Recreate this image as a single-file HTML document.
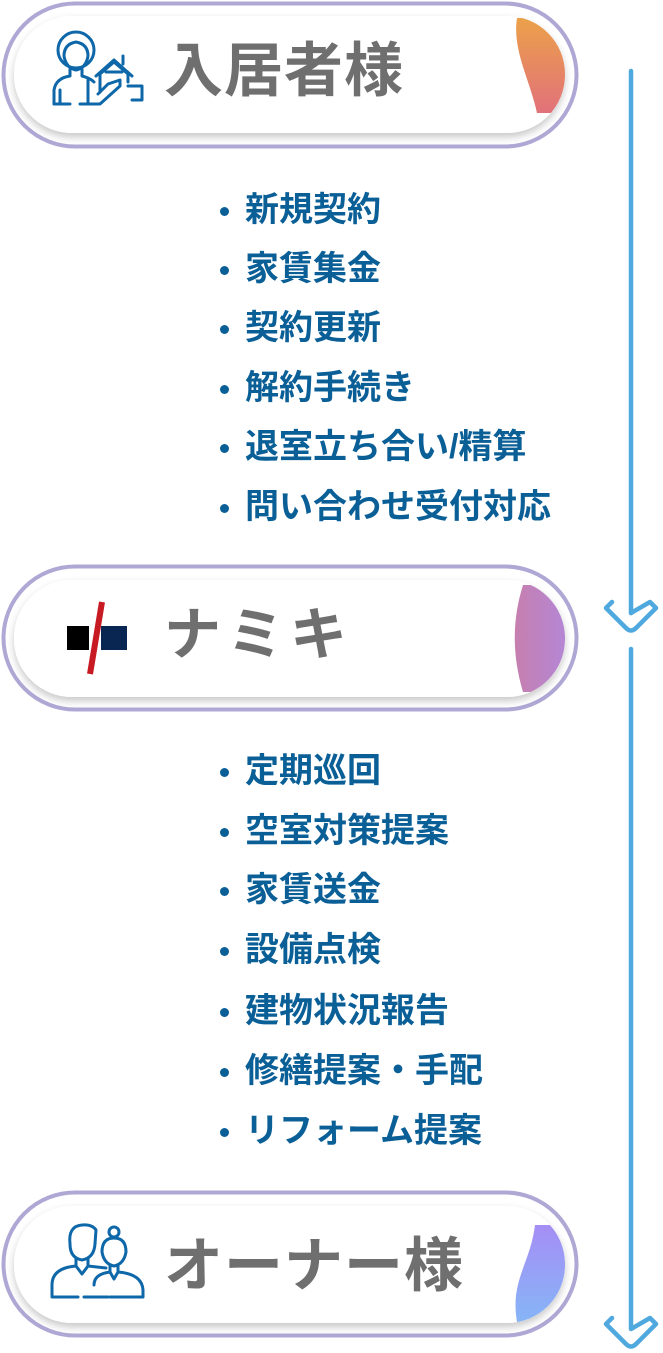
<!DOCTYPE html>
<html><head><meta charset="utf-8">
<style>
html,body{margin:0;padding:0;background:#fff;}
body{width:663px;height:1353px;position:relative;overflow:hidden;font-family:"Liberation Sans","Noto Sans CJK JP",sans-serif;}
.t{position:absolute;font-weight:bold;color:#6f6f6f;font-size:59px;line-height:1;white-space:nowrap;}
.li{position:absolute;left:245px;font-weight:bold;color:#0b5f97;font-size:34px;line-height:1;white-space:nowrap;}
.li::before{content:"";position:absolute;left:-25px;top:14px;width:9px;height:9px;border-radius:50%;background:#0b5f97;}
</style></head><body>
<svg width="663" height="1353" style="position:absolute;left:0;top:0">
<defs>
<filter id="sh" x="-10%" y="-20%" width="120%" height="150%"><feDropShadow dx="0" dy="4" stdDeviation="4" flood-color="#000" flood-opacity="0.22"/></filter>
<linearGradient id="g1" x1="0" y1="0" x2="0" y2="1"><stop offset="0" stop-color="#eba14a"/><stop offset="1" stop-color="#e2717a"/></linearGradient>
<linearGradient id="g2" x1="0" y1="0" x2="1" y2="0"><stop offset="0" stop-color="#c67fae"/><stop offset="1" stop-color="#a98bf0"/></linearGradient>
<linearGradient id="g3" x1="0" y1="0" x2="0" y2="1"><stop offset="0" stop-color="#a58ef5"/><stop offset="1" stop-color="#86b5f7"/></linearGradient>
<clipPath id="c1"><rect x="14" y="16" width="551" height="117" rx="58"/></clipPath>
<clipPath id="c2"><rect x="14" y="580" width="551" height="117" rx="58"/></clipPath>
<clipPath id="c3"><rect x="14" y="1206" width="551" height="117" rx="58"/></clipPath>
</defs>
<rect x="3.5" y="3.5" width="573" height="143" rx="71.5" fill="#fff" stroke="#afa8d5" stroke-width="4"/>
<rect x="14" y="16" width="551" height="117" rx="58" fill="#fff" filter="url(#sh)"/>
<path d="M517 18 C512 50 530 80 537 113 L600 113 L600 18 Z" fill="url(#g1)" clip-path="url(#c1)"/>
<rect x="3.5" y="566.5" width="573" height="143" rx="71.5" fill="#fff" stroke="#afa8d5" stroke-width="4"/>
<rect x="14" y="580" width="551" height="117" rx="58" fill="#fff" filter="url(#sh)"/>
<path d="M523 585 C512 620 512 655 523 692 L600 692 L600 585 Z" fill="url(#g2)" clip-path="url(#c2)"/>
<rect x="3.5" y="1192.5" width="573" height="143" rx="71.5" fill="#fff" stroke="#afa8d5" stroke-width="4"/>
<rect x="14" y="1206" width="551" height="117" rx="58" fill="#fff" filter="url(#sh)"/>
<path d="M535 1225 C530 1265 510 1280 517 1322 L600 1322 L600 1225 Z" fill="url(#g3)" clip-path="url(#c3)"/>
<g stroke="#4fa9df" stroke-width="4.5" fill="none" stroke-linecap="round" stroke-linejoin="round">
<line x1="631" y1="71" x2="631" y2="613"/>
<path d="M612 602 L606 608 L626 628 Q631 633 636 628 L656 608 L650 602 L631 613"/>
<line x1="631" y1="649" x2="631" y2="1328"/>
<path d="M612 1318 L606 1324 L626 1344 Q631 1349 636 1344 L656 1324 L650 1318 L631 1329"/>
</g>
<g stroke="#0d67a8" stroke-width="3" fill="none" stroke-linecap="round" stroke-linejoin="round">
<circle cx="76" cy="50" r="18"/>
<path d="M64 56 Q64 44 76 42 Q88 44 88 56 Q86 68 76 70 Q66 68 64 56Z"/>
<path d="M70 69 L70 76 Q56 78 54 90 L54 104 M82 69 L82 76 Q90 78 94 82"/>
<path d="M60 90 L60 104 M54 104 L70 104 M80 104 L100 104 L120 86 L120 80 L108 84 L98 94"/>
<path d="M88 80 L88 104"/>
<path d="M100 92 L100 74 L114 62 L128 74 L128 82 M106 72 L122 72 M96 76 L114 60 L132 76"/>
<path d="M123 64 L123 56 M128 86 L142 86 L142 100 L132 100"/>
</g>
<rect x="67" y="626" width="22" height="24" fill="#000"/>
<rect x="101" y="626" width="26" height="24" fill="#092653"/>
<line x1="102" y1="602" x2="90" y2="674" stroke="#c81a22" stroke-width="6"/>
<g stroke="#0d67a8" stroke-width="3" fill="none" stroke-linecap="round" stroke-linejoin="round">
<path d="M70 1244 Q68 1226 82 1225 Q92 1224 96 1230 L95 1244 Q94 1258 82 1260 Q70 1258 70 1244Z"/>
<path d="M76 1259 L76 1266 Q52 1268 52 1285 L52 1297 L78 1297 M84 1297 L108 1297 M76 1266 L82 1274 L88 1266 M88 1259 L88 1266 L106 1268"/>
<circle cx="114" cy="1232" r="5"/>
<path d="M102 1252 Q102 1238 114 1238 Q126 1238 126 1252 Q124 1264 114 1266 Q104 1264 102 1252Z"/>
<path d="M110 1266 L110 1272 Q94 1274 94 1285 M118 1266 L118 1272 Q142 1274 143 1290 L143 1297 L110 1297 M110 1272 L114 1279 L118 1272"/>
</g>
</svg>
<div class="t" style="left:164px;top:42px;letter-spacing:1px;">入居者様</div>
<div class="t" style="left:164px;top:607px;letter-spacing:6px;font-size:57px;">ナミキ</div>
<div class="t" style="left:164px;top:1237px;letter-spacing:1px;">オーナー様</div>
<div class="li" style="top:193px">新規契約</div>
<div class="li" style="top:252px">家賃集金</div>
<div class="li" style="top:311px">契約更新</div>
<div class="li" style="top:371px">解約手続き</div>
<div class="li" style="top:430px">退室立ち合い/精算</div>
<div class="li" style="top:490px">問い合わせ受付対応</div>
<div class="li" style="top:754px">定期巡回</div>
<div class="li" style="top:814px">空室対策提案</div>
<div class="li" style="top:873px">家賃送金</div>
<div class="li" style="top:933px">設備点検</div>
<div class="li" style="top:994px">建物状況報告</div>
<div class="li" style="top:1054px">修繕提案・手配</div>
<div class="li" style="top:1114px">リフォーム提案</div>
</body></html>
